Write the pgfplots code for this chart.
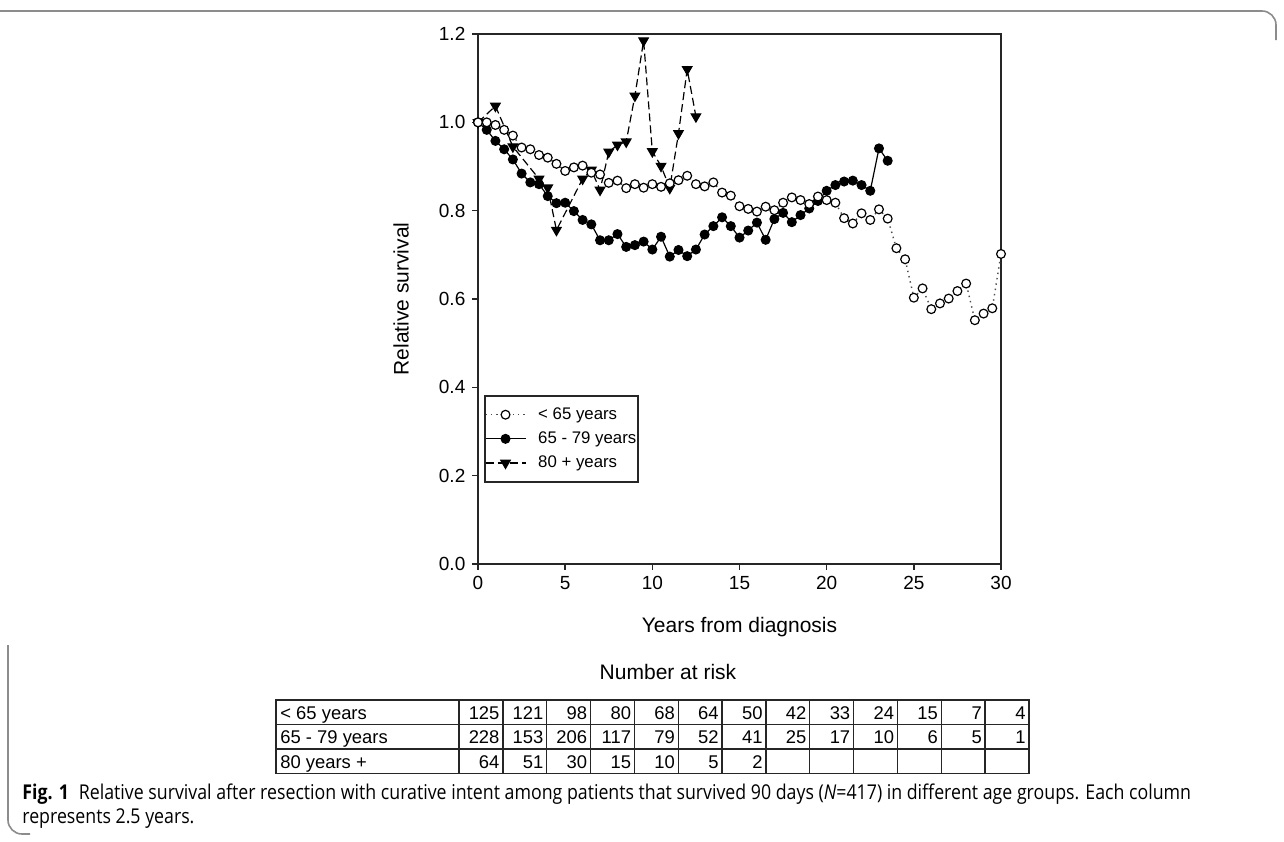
\documentclass[border=0pt]{standalone}
\usepackage{fontspec}
\setmainfont{Liberation Sans}
\newfontfamily\capfont[FakeStretch=0.87]{Open Sans}
\usepackage{pgfplots}
\pgfplotsset{compat=1.18}
\definecolor{framegray}{RGB}{140,140,140}
\begin{document}
\begin{tikzpicture}
\useasboundingbox (0,0) rectangle (642pt,-420.5pt);
\begin{axis}[
  at={(239pt,-282pt)}, anchor=south west,
  scale only axis, width=261.5pt, height=265pt,
  xmin=0, xmax=30, ymin=0, ymax=1.2,
  xtick={0,5,10,15,20,25,30},
  ytick={0,0.2,0.4,0.6,0.8,1.0,1.2},
  yticklabel style={/pgf/number format/.cd, fixed, fixed zerofill, precision=1},
  /pgf/number format/assume math mode=true,
  tick align=outside, tick pos=left,
  major tick length=2.8pt,
  axis line style={line width=0.8pt, black!85},
  every tick/.style={line width=0.8pt, black!85},
  ticklabel style={font=\fontsize{9.5}{11}\selectfont},
  xlabel={Years from diagnosis},
  ylabel={Relative survival},
  label style={font=\fontsize{10.5}{12}\selectfont},
  xlabel style={at={(axis description cs:0.5,0)}, anchor=north, yshift=-23pt},
  ylabel style={at={(axis description cs:0,0.5)}, anchor=south, yshift=31pt},
  legend style={at={(rel axis cs:0.0115,0.319)}, anchor=north west,
    draw=black!85, line width=0.8pt, inner xsep=0pt, inner ysep=4.8pt,
    nodes={inner sep=1pt},
    font=\fontsize{8.4}{10}\selectfont, row sep=2.7pt,
    /tikz/every odd column/.append style={column sep=5pt}},
  legend cell align=left,
  legend image code/.code={\draw[mark repeat=2,mark phase=2] plot coordinates {(0pt,0pt) (10pt,0pt) (20pt,0pt)};},
]
% 80+ years
\addplot[forget plot, black, line width=0.6pt, dash pattern=on 4pt off 2pt, mark=triangle*, mark size=2.7pt,
  mark options={rotate=180, solid, fill=black}] coordinates {
(0,1.0) (1,1.037) (2,0.945) (3.5,0.872) (4,0.852) (4.5,0.756) (6,0.872) (6.5,0.892)
(7,0.847) (7.5,0.933) (8,0.949) (8.5,0.956) (9,1.06) (9.5,1.185) (10,0.934) (10.5,0.901)
(11,0.851) (11.5,0.975) (12,1.12) (12.5,1.013)
};
% 65-79 years
\addplot[forget plot, black, line width=0.6pt, solid, mark=*, mark size=2.2pt, mark options={fill=black}] coordinates {
(0,1.0) (0.5,0.983) (1,0.958) (1.5,0.939) (2,0.916) (2.5,0.884) (3,0.864) (3.5,0.860)
(4,0.833) (4.5,0.817) (5,0.818) (5.5,0.799) (6,0.779) (6.5,0.769) (7,0.733) (7.5,0.733)
(8,0.747) (8.5,0.718) (9,0.722) (9.5,0.730) (10,0.712) (10.5,0.741) (11,0.696) (11.5,0.711)
(12,0.697) (12.5,0.712) (13,0.746) (13.5,0.765) (14,0.785) (14.5,0.765) (15,0.739) (15.5,0.755)
(16,0.773) (16.5,0.734) (17,0.781) (17.5,0.795) (18,0.774) (18.5,0.790) (19,0.805) (19.5,0.822)
(20,0.845) (20.5,0.858) (21,0.866) (21.5,0.868) (22,0.858) (22.5,0.845) (23,0.941) (23.5,0.913)
};
% <65 years
\addplot[forget plot, black!70, line width=0.7pt, dotted, mark=*, mark size=2.2pt,
  mark options={solid, fill=white, draw=black, line width=0.6pt}] coordinates {
(0,1.000) (0.5,1.000) (1,0.994) (1.5,0.983) (2,0.970) (2.5,0.943) (3,0.939) (3.5,0.926)
(4,0.920) (4.5,0.906) (5,0.890) (5.5,0.898) (6,0.902) (6.5,0.886) (7,0.882) (7.5,0.863)
(8,0.868) (8.5,0.851) (9,0.860) (9.5,0.852) (10,0.860) (10.5,0.854) (11,0.862) (11.5,0.869)
(12,0.879) (12.5,0.860) (13,0.855) (13.5,0.864) (14,0.841) (14.5,0.834) (15,0.810) (15.5,0.804)
(16,0.798) (16.5,0.809) (17,0.801) (17.5,0.818) (18,0.830) (18.5,0.824) (19,0.815) (19.5,0.832)
(20,0.824) (20.5,0.818) (21,0.783) (21.5,0.771) (22,0.794) (22.5,0.779) (23,0.803) (23.5,0.782)
(24,0.715) (24.5,0.690) (25,0.603) (25.5,0.624) (26,0.577) (26.5,0.590) (27,0.601) (27.5,0.618)
(28,0.635) (28.5,0.552) (29,0.567) (29.5,0.579) (30,0.702)
};
\addlegendimage{black!70, line width=0.7pt, dotted, mark=*, mark size=2.2pt, mark options={solid, fill=white, draw=black, line width=0.6pt}}
\addlegendentry{\makebox[49pt][l]{< 65 years}}
\addlegendimage{black, line width=0.6pt, solid, mark=*, mark size=2.2pt, mark options={fill=black}}
\addlegendentry{\makebox[49pt][l]{65 - 79 years}}
\addlegendimage{black, line width=0.6pt, dash pattern=on 4pt off 2pt, mark=triangle*, mark size=2.7pt, mark options={rotate=180, solid, fill=black}}
\addlegendentry{\makebox[49pt][l]{80 + years}}
\end{axis}
\begin{scope}[x=0.5pt, y=-0.5pt]
% frame
\draw[framegray, line width=0.8pt, rounded corners=7pt] (0,11) -- (1276,11) -- (1276,40);
\draw[framegray, line width=0.8pt, rounded corners=7pt] (8,645) -- (8,834) -- (30,834);
% number at risk
\node[font=\fontsize{10.5}{12}\selectfont] at (668,672) {Number at risk};
\def\rA{700}\def\rB{724.5}\def\rC{749}\def\rD{773.5}
\draw[black!85, line width=0.7pt] (276,\rA) rectangle (1029,\rD);
\draw[black!85, line width=0.7pt] (276,\rB) -- (1029,\rB);
\draw[black!85, line width=0.7pt] (276,\rC) -- (1029,\rC);
\foreach \i in {0,...,12} {
  \draw[black!85, line width=0.7pt] ({459+\i*43.846},\rA) -- ({459+\i*43.846},\rD);
}
\tikzset{tl/.style={font=\fontsize{9.2}{10}\selectfont, inner sep=0pt, anchor=base west},
         tn/.style={font=\fontsize{9.2}{10}\selectfont, inner sep=0pt, anchor=base east}}
\node[tl] at (280,719) {< 65 years};
\node[tl] at (280,743.5) {65 - 79 years};
\node[tl] at (280,768) {80 years +};
\foreach \v [count=\c] in {125,121,98,80,68,64,50,42,33,24,15,7,4} {
  \node[tn] at ({459+\c*43.846-3},719) {\v};
}
\foreach \v [count=\c] in {228,153,206,117,79,52,41,25,17,10,6,5,1} {
  \node[tn] at ({459+\c*43.846-3},743.5) {\v};
}
\foreach \v [count=\c] in {64,51,30,15,10,5,2} {
  \node[tn] at ({459+\c*43.846-3},768) {\v};
}
% caption
\node[anchor=base west, inner sep=0pt, font=\capfont\fontsize{10.2}{12}\selectfont] at (22,799)
  {\textbf{Fig. 1}\hspace{5pt}Relative survival after resection with curative intent among patients that survived 90 days (\textit{N}=417) in different age groups. Each column};
\node[anchor=base west, inner sep=0pt, font=\capfont\fontsize{10.2}{12}\selectfont] at (22,823)
  {represents 2.5 years.};
\end{scope}
\end{tikzpicture}
\end{document}
